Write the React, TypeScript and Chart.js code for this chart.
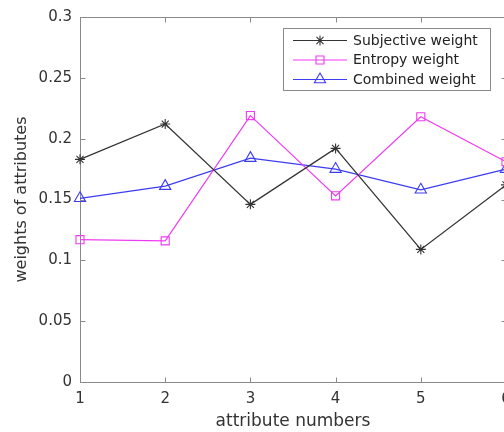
import React, { useEffect, useRef } from "react";
import { Chart, registerables } from "chart.js";

Chart.register(...registerables);

const attributeNumbers = [1, 2, 3, 4, 5, 6];
const subjectiveWeight = [0.183, 0.212, 0.146, 0.192, 0.109, 0.162];
const entropyWeight = [0.117, 0.116, 0.219, 0.153, 0.218, 0.181];
const combinedWeight = [0.151, 0.161, 0.184, 0.175, 0.158, 0.175];
const yTickValues = [0, 0.05, 0.1, 0.15, 0.2, 0.25, 0.3];
const seriesLabels = ["Subjective weight", "Entropy weight", "Combined weight"];
const seriesColors = ["#333333", "#f03cf0", "#3c3cf2"];
const seriesMarkers = ["star", "rect", "triangle"];
const xTitle = "attribute numbers";
const yTitle = "weights of attributes";

const FONT = "'DejaVu Sans', sans-serif";
const AXIS = "#8a8a8a";
const TEXT = "#333333";

function drawMarker(ctx: CanvasRenderingContext2D, style: string, x: number, y: number) {
  ctx.beginPath();
  if (style === "star") {
    const r = 5;
    const d = r * Math.SQRT1_2;
    ctx.moveTo(x - r, y); ctx.lineTo(x + r, y);
    ctx.moveTo(x, y - r); ctx.lineTo(x, y + r);
    ctx.moveTo(x - d, y - d); ctx.lineTo(x + d, y + d);
    ctx.moveTo(x - d, y + d); ctx.lineTo(x + d, y - d);
  } else if (style === "rect") {
    const s = 4;
    ctx.rect(x - s, y - s, 2 * s, 2 * s);
  } else {
    const r = 6.5;
    ctx.moveTo(x, y - r);
    ctx.lineTo(x + r * Math.sin(Math.PI / 3), y + r * 0.5);
    ctx.lineTo(x - r * Math.sin(Math.PI / 3), y + r * 0.5);
    ctx.closePath();
  }
  ctx.stroke();
}

const boxPlugin = {
  id: "matlabBox",
  beforeDatasetsDraw(chart: any) {
    const { ctx, chartArea, scales } = chart;
    const l = Math.round(chartArea.left) + 0.5;
    const r = Math.round(chartArea.right) + 0.5;
    const t = Math.round(chartArea.top) + 0.5;
    const b = Math.round(chartArea.bottom) + 0.5;
    ctx.save();
    ctx.strokeStyle = AXIS;
    ctx.lineWidth = 1;
    ctx.strokeRect(l, t, r - l, b - t);
    ctx.beginPath();
    const tl = 5;
    attributeNumbers.forEach((v) => {
      const px = Math.round(scales.x.getPixelForValue(v)) + 0.5;
      ctx.moveTo(px, b); ctx.lineTo(px, b - tl);
      ctx.moveTo(px, t); ctx.lineTo(px, t + tl);
    });
    yTickValues.forEach((v) => {
      const py = Math.round(scales.y.getPixelForValue(v)) + 0.5;
      ctx.moveTo(l, py); ctx.lineTo(l + tl, py);
      ctx.moveTo(r, py); ctx.lineTo(r - tl, py);
    });
    ctx.stroke();
    ctx.restore();
  },
};

const legendPlugin = {
  id: "matlabLegend",
  afterDraw(chart: any) {
    const { ctx } = chart;
    const bx = 283.5, by = 28.5, bw = 207, bh = 62;
    ctx.save();
    ctx.fillStyle = "#ffffff";
    ctx.fillRect(bx, by, bw, bh);
    ctx.strokeStyle = "#8a8a8a";
    ctx.lineWidth = 1;
    ctx.strokeRect(bx, by, bw, bh);
    const rows = [40, 59.5, 79];
    seriesLabels.forEach((label, i) => {
      const y = rows[i];
      const color = seriesColors[i];
      ctx.strokeStyle = color;
      ctx.lineWidth = 1.1;
      ctx.beginPath();
      ctx.moveTo(293, y + 0.5);
      ctx.lineTo(347, y + 0.5);
      ctx.stroke();
      ctx.strokeStyle = color;
      drawMarker(ctx, seriesMarkers[i], 320, y + 0.5);
      ctx.fillStyle = "#222222";
      ctx.font = `14px ${FONT}`;
      ctx.textBaseline = "middle";
      ctx.textAlign = "left";
      ctx.fillText(label, 353, y + 1);
    });
    ctx.restore();
  },
};

function makeDataset(i: number, values: number[]) {
  return {
    label: seriesLabels[i],
    data: attributeNumbers.map((a, k) => ({ x: a, y: values[k] })),
    borderColor: seriesColors[i],
    backgroundColor: "rgba(0,0,0,0)",
    borderWidth: 1.2,
    pointStyle: seriesMarkers[i],
    pointRadius: seriesMarkers[i] === "triangle" ? 6.5 : seriesMarkers[i] === "rect" ? 5.7 : 5,
    pointBorderColor: seriesColors[i],
    pointBackgroundColor: "rgba(0,0,0,0)",
    pointBorderWidth: 1.1,
    tension: 0,
    clip: false as any,
  };
}

export default function App() {
  const ref = useRef<HTMLCanvasElement | null>(null);
  useEffect(() => {
    if (!ref.current) return;
    const chart = new Chart(ref.current, {
      type: "line",
      data: {
        datasets: [
          makeDataset(0, subjectiveWeight),
          makeDataset(1, entropyWeight),
          makeDataset(2, combinedWeight),
        ],
      },
      options: {
        responsive: false,
        animation: false,
        layout: { padding: { top: 14, right: 34, left: 0, bottom: 0 } },
        plugins: { legend: { display: false }, tooltip: { enabled: false } },
        scales: {
          x: {
            type: "linear",
            min: 1,
            max: 6,
            grid: { display: false, drawTicks: false },
            border: { display: false },
            afterBuildTicks: (s: any) => {
              s.ticks = attributeNumbers.map((v) => ({ value: v }));
            },
            ticks: {
              color: TEXT,
              font: { family: FONT, size: 15 },
              padding: 8,
              maxRotation: 0,
              callback: (v: any) => String(v),
            },
            title: {
              display: true,
              text: xTitle,
              color: TEXT,
              font: { family: FONT, size: 17 },
              padding: { top: 0, bottom: 0 },
            },
            afterFit: (s: any) => {
              s.height = 50;
            },
          },
          y: {
            type: "linear",
            min: 0,
            max: 0.3,
            grid: { display: false, drawTicks: false },
            border: { display: false },
            afterBuildTicks: (s: any) => {
              s.ticks = yTickValues.map((v) => ({ value: v }));
            },
            ticks: {
              color: TEXT,
              font: { family: FONT, size: 15 },
              padding: 8,
              callback: (v: any) => String(Number(Number(v).toFixed(2))),
            },
            title: {
              display: true,
              text: yTitle,
              color: TEXT,
              font: { family: FONT, size: 16 },
              padding: { top: 12, bottom: 0 },
            },
            afterFit: (s: any) => {
              s.width = 80;
            },
          },
        },
      },
      plugins: [boxPlugin, legendPlugin],
    } as any);
    return () => chart.destroy();
  }, []);

  return (
    <div
      style={{
        position: "fixed",
        left: 0,
        top: 0,
        width: 504,
        height: 432,
        overflow: "hidden",
        background: "#ffffff",
      }}
    >
      <canvas ref={ref} width={540} height={432} style={{ display: "block" }} />
    </div>
  );
}
